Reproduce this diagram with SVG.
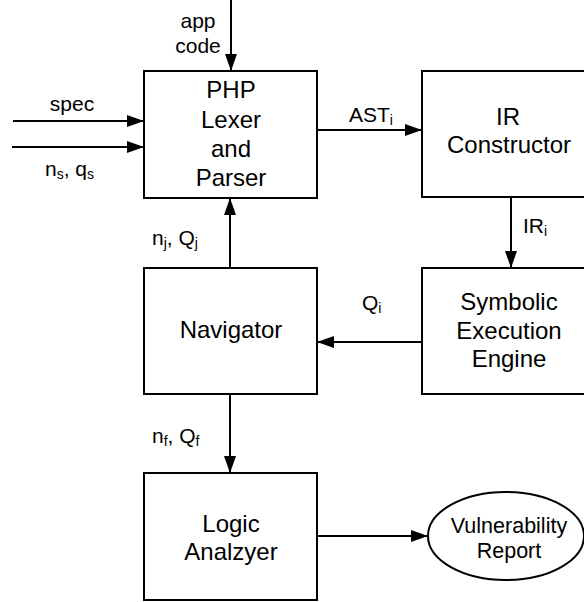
<svg xmlns="http://www.w3.org/2000/svg" width="584" height="602" viewBox="0 0 584 602">
<style>
.box{fill:#fff;stroke:#000;stroke-width:2}
.t{font-family:"Liberation Sans",Arial,sans-serif;font-size:24px;fill:#000;text-anchor:middle}
.l{font-family:"Liberation Sans",Arial,sans-serif;font-size:21px;fill:#000}
.e{stroke:#000;stroke-width:2;fill:none;marker-end:url(#ah)}
.sub{font-size:14px}
</style>
<defs>
<marker id="ah" markerUnits="userSpaceOnUse" markerWidth="17" markerHeight="12" refX="17" refY="6" orient="auto">
<path d="M0,0 L17,6 L0,12 z" fill="#000"/>
</marker>
</defs>
<rect width="584" height="602" fill="#fff"/>
<g id="connectors">
<line class="e" x1="231" y1="0" x2="231" y2="71"/>
<line class="e" x1="13" y1="121" x2="144" y2="121"/>
<line class="e" x1="12" y1="147" x2="144" y2="147"/>
<line class="e" x1="317" y1="130" x2="422" y2="130"/>
<line class="e" x1="511" y1="197" x2="511" y2="268"/>
<line class="e" x1="422" y1="342" x2="317" y2="342"/>
<line class="e" x1="230" y1="268" x2="230" y2="198"/>
<line class="e" x1="230" y1="394" x2="230" y2="473"/>
<line class="e" x1="317" y1="536" x2="428" y2="536"/>
<text class="l" x="198" y="28" text-anchor="middle">app</text>
<text class="l" x="198" y="53" text-anchor="middle">code</text>
<text class="l" x="72" y="111" text-anchor="middle">spec</text>
<text class="l" x="45" y="176">n<tspan class="sub" dy="3">s</tspan><tspan dy="-3">, q</tspan><tspan class="sub" dy="3">s</tspan></text>
<text class="l" x="349" y="122">AST<tspan class="sub" dy="3">i</tspan></text>
<text class="l" x="523" y="233">IR<tspan class="sub" dy="3">i</tspan></text>
<text class="l" x="362" y="310">Q<tspan class="sub" dy="3">i</tspan></text>
<text class="l" x="152" y="245">n<tspan class="sub" dy="3">j</tspan><tspan dy="-3">, Q</tspan><tspan class="sub" dy="3">j</tspan></text>
<text class="l" x="152" y="443">n<tspan class="sub" dy="3">f</tspan><tspan dy="-3">, Q</tspan><tspan class="sub" dy="3">f</tspan></text>
</g>
<g id="php">
<rect class="box" x="144" y="71" width="173" height="127"/>
<text class="t" x="231" y="98">PHP</text>
<text class="t" x="231" y="127.5">Lexer</text>
<text class="t" x="231" y="156.5">and</text>
<text class="t" x="231" y="185.5">Parser</text>
</g>
<g id="ir">
<rect class="box" x="422" y="71" width="173" height="126"/>
<text class="t" x="508" y="125">IR</text>
<text class="t" x="509" y="153">Constructor</text>
</g>
<g id="symbolic">
<rect class="box" x="422" y="268" width="173" height="126"/>
<text class="t" x="509" y="310">Symbolic</text>
<text class="t" x="509" y="339">Execution</text>
<text class="t" x="509" y="367">Engine</text>
</g>
<g id="navigator">
<rect class="box" x="144" y="268" width="173" height="126"/>
<text class="t" x="231" y="338">Navigator</text>
</g>
<g id="logic">
<rect class="box" x="144" y="473" width="173" height="127"/>
<text class="t" x="231" y="532">Logic</text>
<text class="t" x="231" y="560">Analzyer</text>
</g>
<g id="report">
<ellipse class="box" cx="506" cy="536" rx="78" ry="44"/>
<text class="t" x="509" y="533" style="font-size:21.5px">Vulnerability</text>
<text class="t" x="509" y="558" style="font-size:21.5px">Report</text>
</g>
</svg>
